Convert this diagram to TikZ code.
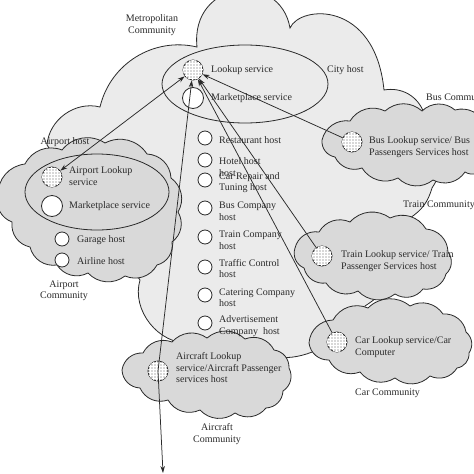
\documentclass[tikz,border=0pt]{standalone}
\usepackage{fontspec}
\setmainfont{Liberation Serif}
\usetikzlibrary{arrows.meta,patterns,shapes.geometric}
\definecolor{metrofill}{HTML}{EBEBEB}
\definecolor{cloudfill}{HTML}{D9D9D9}
\definecolor{lookfill}{HTML}{D8D8D8}
\definecolor{ink}{HTML}{2A2A2A}
\begin{document}
\begin{tikzpicture}[x=1pt,y=-1pt,
  outline/.style={draw=ink,line width=0.8pt},
  metrocloud/.style={outline,fill=metrofill},
  subcloud/.style={outline,fill=cloudfill},
  ring/.style={ellipse,draw=ink,line width=0.8pt,inner sep=0pt},
  lookup/.style={circle,draw=ink,line width=0.8pt,fill=lookfill,minimum size=20pt,inner sep=0pt,postaction={pattern=grid,pattern color=white}},
  market/.style={circle,draw=ink,line width=0.8pt,fill=white,minimum size=21pt,inner sep=0pt},
  host/.style={circle,draw=ink,line width=0.8pt,fill=white,minimum size=14pt,inner sep=0pt},
  lbl/.style={font=\fontsize{10}{11.5}\selectfont,text=ink,inner sep=0pt,align=left,anchor=west},
  clbl/.style={font=\fontsize{10}{11.5}\selectfont,text=ink,inner sep=0pt,align=center},
  link/.style={draw=ink,line width=0.75pt},
  tip/.style={-{Stealth[length=7pt,width=4.5pt]}},
  bb/.style={bend left=42}
]
\useasboundingbox[fill=white] (0,0) rectangle (474,474);

% Metropolitan community cloud
\path[metrocloud] (47,145) to[bend left=50] (100,107) to[bend left=45] (197,47)
  .. controls (190,-20) and (280,-30) .. (290,28)
  .. controls (300,5) and (375,0) .. (384,90)
  to[bend left=40] (424,113) to[bend left=40] (432,188) to[bend left=20] (410,218)
  to[bend left=30] (365,306) to[bend left=40] (317,350) to[bend left=30] (240,342)
  to[bend left=30] (190,343) to[bend left=55] (140,280) -- cycle;

% Airport cloud
\path[subcloud] (-2,195) to[bb] (25,164) to[bb] (62,150) to[bb] (105,143) to[bb] (147,154)
  to[bb] (171,178) to[bb] (178,212) to[bb] (172,242) to[bb] (157,265) to[bb] (125,276)
  to[bb] (88,273) to[bb] (57,265) to[bb] (30,247) to[bb] (12,222) to[bb] (-2,195);
% Bus cloud
\path[subcloud] (322,140) to[bb] (350,121) to[bb] (385,111) to[bb] (422,111) to[bb] (455,110)
  to[bb] (485,125) -- (485,168) to[bb] (465,172) to[bb] (433,180) to[bb] (398,178)
  to[bb] (362,168) to[bb] (335,157) to[bb] (322,140);
% Train cloud
\path[subcloud] (295,248) to[bb] (319,232) to[bb] (350,222) to[bb] (390,218) to[bb] (426,229)
  to[bb] (448,252) to[bb] (446,274) to[bb] (423,289) to[bb] (395,294) to[bb] (358,291)
  to[bb] (326,283) to[bb] (304,268) to[bb] (295,248);
% Car cloud
\path[subcloud] (309,343) to[bb] (333,320) to[bb] (368,308) to[bb] (410,306) to[bb] (443,314)
  to[bb] (466,332) to[bb] (469,353) to[bb] (457,368) to[bb] (430,376) to[bb] (395,378)
  to[bb] (360,372) to[bb] (329,360) to[bb] (309,343);
% Aircraft cloud
\path[subcloud] (122,370) to[bb] (143,353) to[bb] (172,342) to[bb] (207,338) to[bb] (245,339)
  to[bb] (274,350) to[bb] (289,368) to[bb] (283,391) to[bb] (266,408) to[bb] (235,413)
  to[bb] (200,410) to[bb] (168,400) to[bb] (140,388) to[bb] (122,370);

% host rings
\node[ring,minimum width=166pt,minimum height=78pt] (cityring) at (245,84) {};
\node[ring,minimum width=144pt,minimum height=76pt] (airring) at (97,192) {};

% circles
\node[lookup] (lk) at (193,70) {};
\node[market] (mk) at (193,98) {};
\node[lookup] (alk) at (52,177) {};
\node[market] (amk) at (52,206) {};
\node[host] (garage) at (62,239) {};
\node[host] (airline) at (62,260) {};
\node[host] (h1) at (205,138) {};
\node[host] (h2) at (205,160) {};
\node[host] (h3) at (205,180) {};
\node[host] (h4) at (205,208) {};
\node[host] (h5) at (205,237) {};
\node[host] (h6) at (205,267) {};
\node[host] (h7) at (205,295) {};
\node[host] (h8) at (205,323) {};
\node[lookup] (bl) at (352,142) {};
\node[lookup] (tl) at (322,256) {};
\node[lookup] (cl) at (337,342) {};
\node[lookup] (acl) at (158,371) {};
\coordinate (exit) at (163,473);

% labels
\node[clbl] (tmetro) at (152,25) {Metropolitan\\Community};
\node[lbl] (tlk) at (211,70) {Lookup service};
\node[lbl] (tmk) at (211,98) {Marketplace service};
\node[lbl] (tcity) at (327,70) {City host};
\node[lbl] (tbusc) at (426,98) {Bus Community};
\node[clbl] (tairh) at (65,142) {Airport host};
\node[lbl] (talk) at (69,176) {Airport Lookup\\service};
\node[lbl] (tamk) at (69,206) {Marketplace service};
\node[lbl] (tgar) at (77,240) {Garage host};
\node[lbl] (tairl) at (77,261) {Airline host};
\node[clbl] (tairc) at (64,291) {Airport\\Community};
\node[lbl] (th1) at (219,140) {Restaurant host};
\node[lbl] (th2) at (219,167) {Hotel host\\host};
\node[lbl] (th3) at (219,182.5) {Car Repair and\\Tuning host};
\node[lbl] (th4) at (219,211) {Bus Company\\host};
\node[lbl] (th5) at (219,240) {Train Company\\host};
\node[lbl] (th6) at (219,268.5) {Traffic Control\\host};
\node[lbl] (th7) at (219,297.5) {Catering Company\\host};
\node[lbl] (th8) at (219,326) {Advertisement\\Company\ \ host};
\node[lbl] (tbl) at (369,147) {Bus Lookup service/ Bus\\Passengers Services host};
\node[lbl] (ttrc) at (403,205) {Train Community};
\node[lbl] (ttl) at (341,261) {Train Lookup service/ Train\\Passenger Services host};
\node[lbl] (tcl) at (355,347) {Car Lookup service/Car\\Computer};
\node[lbl] (tcarc) at (355,393) {Car Community};
\node[lbl] (tacl) at (176,368) {Aircraft Lookup\\service/Aircraft Passenger\\services host};
\node[clbl] (taircc) at (217,434) {Aircraft\\Community};

% connectors
\draw[link,{Stealth[length=7pt,width=4.5pt]}-{Stealth[length=7pt,width=4.5pt]}] (alk) -- (lk);
\draw[link,tip] (bl) -- (lk);
\draw[link,tip] (tl) -- (lk);
\draw[link,tip] (cl) -- (lk);
\draw[link,tip] (acl.center) -- (lk);
\draw[link,tip] (acl.center) -- (exit);
\end{tikzpicture}
\end{document}
